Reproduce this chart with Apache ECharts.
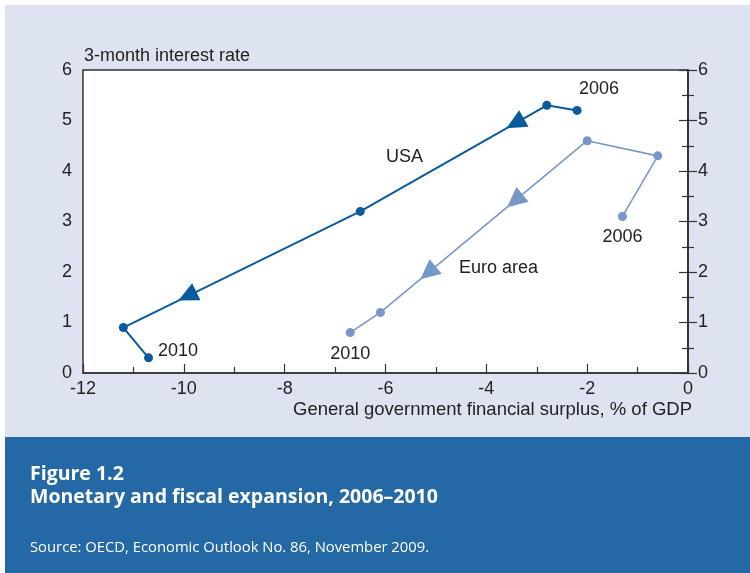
<!DOCTYPE html>
<html><head><meta charset="utf-8">
<script src="https://cdn.jsdelivr.net/npm/echarts@6/dist/echarts.min.js"></script>
<style>html,body{margin:0;padding:0;background:#fff}#c{width:750px;height:573px}</style>
</head><body><div id="c"></div>
<script>
// Data (x: general government financial surplus % of GDP, y: 3-month interest rate), 2006 -> 2010
const years = ['2006','2007','2008','2009','2010'];
const usaX = [-2.2, -2.8, -6.5, -11.2, -10.7];
const usaY = [5.2, 5.3, 3.2, 0.9, 0.3];
const euroX = [-1.3, -0.6, -2.0, -6.1, -6.7];
const euroY = [3.1, 4.3, 4.6, 1.2, 0.8];
// arrows: [segment index, fraction along segment]
const usaArrows = [[1, 0.17], [2, 0.73]];
const euroArrows = [[2, 0.35], [2, 0.77]];
const xTicks = [-12, -10, -8, -6, -4, -2, 0];
const yTicks = [0, 1, 2, 3, 4, 5, 6];

const USA_C = '#0b5a9b', EURO_C = '#7698c9';
const FONT = 'Liberation Sans';
const pts = (xs, ys) => xs.map((x, i) => [x, ys[i]]);
const usa = pts(usaX, usaY), euro = pts(euroX, euroY);

function arrowSeries(line, arrows, color) {
  return {
    type: 'custom', coordinateSystem: 'cartesian2d', xAxisIndex: 0, yAxisIndex: 0,
    silent: true, z: 5,
    data: arrows,
    renderItem: function (params, api) {
      const seg = api.value(0), t = api.value(1);
      const a = api.coord(line[seg]), b = api.coord(line[seg + 1]);
      const cx = a[0] + (b[0] - a[0]) * t, cy = a[1] + (b[1] - a[1]) * t;
      const ang = Math.atan2(b[1] - a[1], b[0] - a[0]);
      const L = 20, W = 9.5;
      const ux = Math.cos(ang), uy = Math.sin(ang), nx = -uy, ny = ux;
      const tip = [cx + ux * L * 0.5, cy + uy * L * 0.5];
      const bc = [cx - ux * L * 0.5, cy - uy * L * 0.5];
      return {
        type: 'polygon',
        shape: { points: [tip, [bc[0] + nx * W, bc[1] + ny * W], [bc[0] - nx * W, bc[1] - ny * W]] },
        style: { fill: color }
      };
    }
  };
}

function labeled(line, lbls) {
  return line.map((p, i) => {
    const o = { value: p };
    if (lbls[i]) o.label = Object.assign({ show: true, formatter: years[i] }, lbls[i]);
    return o;
  });
}

const axisLine = { show: true, lineStyle: { color: '#333', width: 1.5 } };
const tickStyle = { show: true, inside: true, length: 9, lineStyle: { color: '#333', width: 1.2 } };
const minorStyle = { show: true, splitNumber: 2, length: 6, lineStyle: { color: '#333', width: 1.2 } };
const FS = 18;

const chart = echarts.init(document.getElementById('c'));
chart.setOption({
  backgroundColor: '#ffffff',
  animation: false,
  textStyle: { fontFamily: FONT },
  graphic: [
    { type: 'rect', z: -100, shape: { x: 5, y: 5, width: 745, height: 432 }, style: { fill: '#dde3f0' } },
    { type: 'rect', z: -100, shape: { x: 5, y: 437, width: 745, height: 136 }, style: { fill: '#2469a5' } },
    { type: 'text', left: 84, top: 47, style: { text: '3-month interest rate', fontFamily: FONT, fontSize: 18, fill: '#222' } },
    { type: 'text', right: 58, top: 400, style: { text: 'General government financial surplus, % of GDP', fontFamily: FONT, fontSize: 18.5, fill: '#222' } },
    { type: 'text', left: 386, top: 148, style: { text: 'USA', fontFamily: FONT, fontSize: FS, fill: '#222' } },
    { type: 'text', left: 459, top: 259, style: { text: 'Euro area', fontFamily: FONT, fontSize: FS, fill: '#222' } },
    { type: 'text', left: 30, top: 464, style: { text: 'Figure 1.2', fontFamily: 'Open Sans', fontWeight: 'bold', fontSize: 19.5, fill: '#fff' } },
    { type: 'text', left: 30, top: 487, style: { text: 'Monetary and fiscal expansion, 2006\u20132010', fontFamily: 'Open Sans', fontWeight: 'bold', fontSize: 19.5, fill: '#fff' } },
    { type: 'text', left: 30, top: 540, style: { text: 'Source: OECD, Economic Outlook No. 86, November 2009.', fontFamily: 'Open Sans', fontSize: 14.8, fill: '#fff' } }
  ],
  grid: { left: 83, right: 62, top: 70, bottom: 200, show: true, backgroundColor: '#ffffff', borderColor: '#333', borderWidth: 1.5 },
  xAxis: {
    type: 'value', min: xTicks[0], max: xTicks[xTicks.length - 1], interval: 2,
    axisLine: axisLine, axisTick: tickStyle, minorTick: minorStyle, splitLine: { show: false },
    axisLabel: { color: '#222', fontSize: FS, fontFamily: FONT, margin: 7 }
  },
  yAxis: [
    { type: 'value', min: yTicks[0], max: yTicks[yTicks.length - 1], interval: 1, position: 'left',
      axisLine: axisLine, axisTick: tickStyle, minorTick: minorStyle, splitLine: { show: false },
      axisLabel: { color: '#222', fontSize: FS, fontFamily: FONT, margin: 11 } },
    { type: 'value', min: yTicks[0], max: yTicks[yTicks.length - 1], interval: 1, position: 'right',
      axisLine: axisLine, axisTick: tickStyle, minorTick: minorStyle, splitLine: { show: false },
      axisLabel: { color: '#222', fontSize: FS, fontFamily: FONT, margin: 10 } }
  ],
  series: [
    { name: 'USA', type: 'line', data: labeled(usa, [{ position: 'top', offset: [22, -3] }, null, null, null, { position: 'right', offset: [0, -7] }]),
      symbol: 'circle', symbolSize: 9, lineStyle: { color: USA_C, width: 2 }, itemStyle: { color: USA_C },
      label: { color: '#222', fontSize: FS, fontFamily: FONT }, z: 3 },
    { name: 'Euro area', type: 'line', data: labeled(euro, [{ position: 'bottom', offset: [0, 2] }, null, null, null, { position: 'bottom', offset: [0, 3] }]),
      symbol: 'circle', symbolSize: 9, lineStyle: { color: EURO_C, width: 1.6 }, itemStyle: { color: EURO_C },
      label: { color: '#222', fontSize: FS, fontFamily: FONT }, z: 3 },
    arrowSeries(usa, usaArrows, USA_C),
    arrowSeries(euro, euroArrows, EURO_C)
  ]
});
</script></body></html>
